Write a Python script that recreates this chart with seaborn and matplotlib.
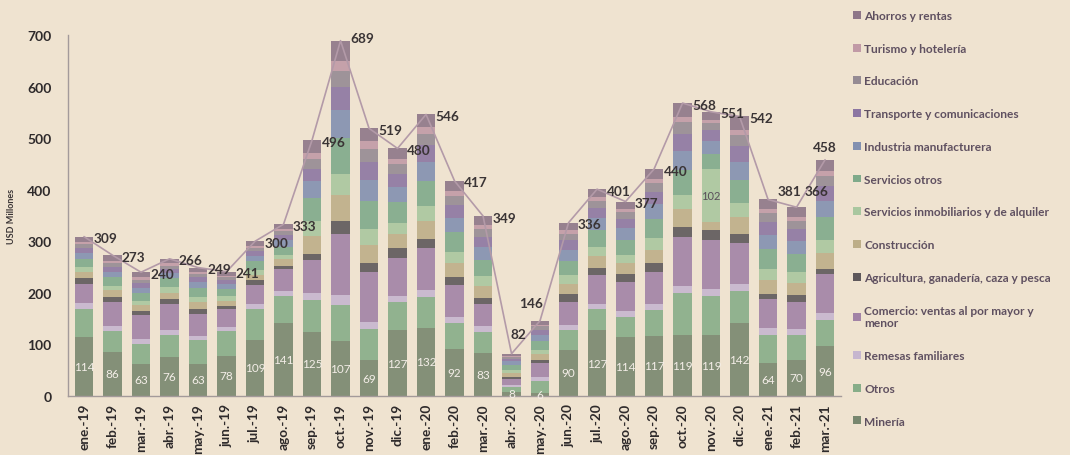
import numpy as np
import matplotlib
matplotlib.use("Agg")
import matplotlib.pyplot as plt
import seaborn as sns
from matplotlib.patches import Patch

months = ["ene.-19", "feb.-19", "mar.-19", "abr.-19", "may.-19", "jun.-19", "jul.-19",
          "ago.-19", "sep.-19", "oct.-19", "nov.-19", "dic.-19", "ene.-20", "feb.-20",
          "mar.-20", "abr.-20", "may.-20", "jun.-20", "jul.-20", "ago.-20", "sep.-20",
          "oct.-20", "nov.-20", "dic.-20", "ene.-21", "feb.-21", "mar.-21"]

totals = [309, 273, 240, 266, 249, 241, 300, 333, 496, 689, 519, 480, 546, 417, 349,
          82, 146, 336, 401, 377, 440, 568, 551, 542, 381, 366, 458]

mineria = [114, 86, 63, 76, 63, 78, 109, 141, 125, 107, 69, 127, 132, 92, 83,
           8, 6, 90, 127, 114, 117, 119, 119, 142, 64, 70, 96]
otros = [55, 40, 38, 42, 45, 48, 60, 52, 62, 70, 60, 55, 60, 50, 42,
         10, 24, 38, 42, 40, 50, 80, 75, 62, 55, 48, 52]
remesas = [12, 10, 9, 10, 9, 8, 10, 11, 12, 18, 14, 12, 14, 12, 10,
           3, 6, 9, 10, 10, 12, 15, 14, 13, 12, 11, 13]
comercio = [37, 47, 48, 51, 42, 34, 37, 42, 64, 120, 97, 74, 81, 61, 44,
            12, 28, 46, 55, 57, 61, 94, 94, 80, 58, 53, 75]
agricultura = [10, 8, 7, 10, 10, 7, 8, 7, 13, 25, 18, 18, 18, 15, 11,
               4, 5, 15, 15, 16, 17, 19, 19, 18, 9, 13, 10]
construccion = [12, 14, 12, 10, 13, 10, 11, 12, 35, 50, 35, 28, 35, 28, 24,
                7, 12, 20, 22, 20, 27, 35, 17, 33, 27, 25, 32]
serv_inmob = [10, 9, 8, 12, 10, 8, 10, 9, 28, 40, 30, 22, 28, 22, 18,
              6, 9, 16, 18, 16, 22, 28, 102, 26, 22, 20, 25]
serv_otros = [15, 16, 15, 18, 17, 14, 16, 15, 45, 70, 55, 40, 48, 38, 32,
              10, 16, 28, 32, 30, 38, 48, 30, 45, 38, 35, 44]
industria = [12, 11, 10, 10, 12, 10, 11, 13, 32, 55, 40, 30, 38, 28, 25,
             7, 12, 22, 24, 22, 28, 38, 25, 35, 28, 26, 32]
transporte = [10, 10, 9, 8, 9, 8, 9, 10, 25, 45, 35, 25, 32, 24, 20,
              5, 10, 18, 20, 18, 24, 32, 20, 30, 24, 23, 28]
educacion = [7, 6, 6, 6, 6, 5, 6, 7, 18, 30, 25, 18, 22, 17, 15,
             4, 7, 13, 14, 13, 17, 23, 14, 22, 17, 16, 20]
turismo = [5, 5, 5, 4, 4, 3, 4, 5, 12, 20, 16, 11, 14, 10, 8,
           2, 3, 7, 7, 6, 8, 10, 7, 10, 8, 8, 9]
ahorros = [10, 11, 10, 9, 9, 8, 9, 9, 25, 39, 25, 20, 24, 20, 17,
           4, 8, 14, 15, 15, 19, 27, 15, 26, 19, 18, 22]

series_names = ["Minería", "Otros", "Remesas familiares",
                "Comercio: ventas al por mayor y\nmenor",
                "Agricultura, ganadería, caza y pesca", "Construcción",
                "Servicios inmobiliarios y de alquiler", "Servicios otros",
                "Industria manufacturera", "Transporte y comunicaciones",
                "Educación", "Turismo y hotelería", "Ahorros y rentas"]
series_vals = [mineria, otros, remesas, comercio, agricultura, construccion,
               serv_inmob, serv_otros, industria, transporte, educacion,
               turismo, ahorros]
series_colors = ["#78876f", "#87ad88", "#c6b6cf", "#a283a6", "#5e585b", "#bdae88",
                 "#a9c79f", "#7faa8a", "#8290b0", "#8c76a2", "#958b93", "#c19aa6",
                 "#8e7688"]

# extra inner label seen in nov.-20
extra_label_month = "nov.-20"
extra_label_text = "102"

sns.set_theme(style="white")
plt.rcParams["font.family"] = ["Lato", "DejaVu Sans"]

bg = "#efe3d0"
fig = plt.figure(figsize=(10.7, 4.56), dpi=100, facecolor=bg)
ax = fig.add_axes([0.0636, 0.1294, 0.7224, 0.7917])
ax.set_facecolor(bg)

n = len(months)
bottom = np.zeros(n)
for name, vals, col in zip(series_names, series_vals, series_colors):
    sns.barplot(x=months, y=vals, order=months, bottom=bottom.copy(), color=col,
                saturation=1, width=0.64, errorbar=None, ax=ax, zorder=2,
                alpha=0.9, linewidth=0)
    bottom += np.array(vals, dtype=float)

# total line
sns.lineplot(x=np.arange(n), y=totals, color="#b39aa8", linewidth=1.2, ax=ax,
             zorder=4, sort=False)

# total labels
special = {"abr.-20": (15.25, 120, "center"), "may.-20": (15.7, 181, "center"),
           "ene.-21": (24.35, 398, "left"), "feb.-21": (25.3, 398, "left"),
           "mar.-21": (26.0, 482, "center"), "oct.-19": (9.33, 694, "left")}
for i, (m, t) in enumerate(zip(months, totals)):
    if m in special:
        x, y, ha = special[m]
    else:
        x, y, ha = i + 0.33, t - 3, "left"
    ax.text(x, y, str(t), ha=ha, va="center", fontsize=9.8, fontweight="bold",
            color="#3a3435", zorder=5)

# Minería labels (centered inside bottom segment)
for i, v in enumerate(mineria):
    ax.text(i, v / 2, str(v), ha="center", va="center", fontsize=8.5,
            color="#f4eee8", zorder=5)

# extra label
j = months.index(extra_label_month)
base = sum(s[j] for s in series_vals[:6])
ax.text(j, base + serv_inmob[j] / 2, extra_label_text, ha="center", va="center",
        fontsize=8, color="#5a4f5a", zorder=5)

ax.set_xlim(-0.56, n - 0.44)
ax.set_ylim(0, 700)
ax.set_yticks(range(0, 701, 100))
ax.set_xlabel("")
ax.set_ylabel("USD Millones", fontsize=6.5, fontweight="bold", color="#3a3435",
              labelpad=8)
ax.tick_params(axis="both", length=0)
ax.tick_params(axis="y", labelsize=10, labelcolor="#2e2a2b", pad=12)
ax.tick_params(axis="x", labelsize=9.8, labelcolor="#2e2a2b", pad=5)
for lab in ax.get_yticklabels():
    lab.set_fontweight("bold")
ax.set_xticks(range(n))
ax.set_xticklabels(months, rotation=90, fontweight="bold")
for s in ["top", "right"]:
    ax.spines[s].set_visible(False)
for s in ["left", "bottom"]:
    ax.spines[s].set_color("#a39a9a")
    ax.spines[s].set_linewidth(1.0)

handles = [Patch(facecolor=c, edgecolor="none") for c in series_colors[::-1]]
labels = series_names[::-1]
leg = fig.legend(handles, labels, loc="upper left",
                 bbox_to_anchor=(853 / 1070, 1 - 11 / 456), frameon=False,
                 fontsize=8.6, labelspacing=1.82, handlelength=0.65,
                 handleheight=0.65, handletextpad=0.3, borderpad=0,
                 borderaxespad=0)
for t in leg.get_texts():
    t.set_color("#5f5060")
    t.set_fontweight("bold")

fig.savefig("out.png", dpi=100, facecolor=bg)
